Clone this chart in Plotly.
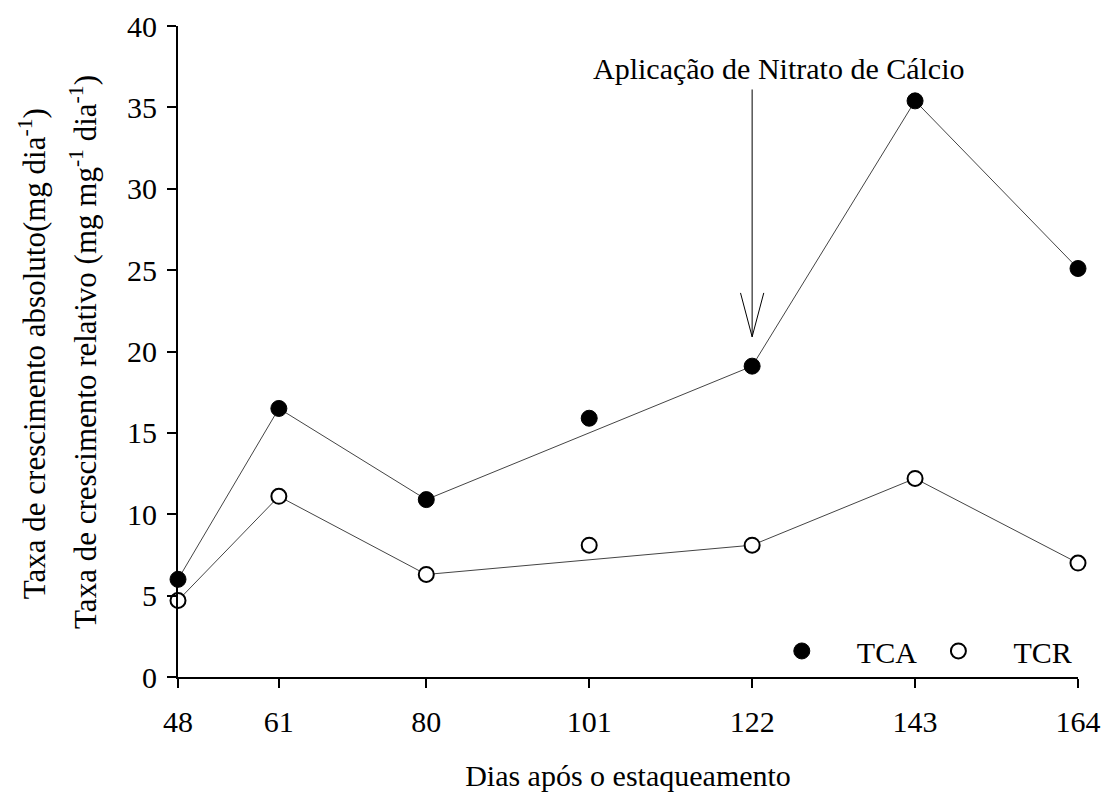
import plotly.graph_objects as go

# Days after planting the cuttings
dias = [48, 61, 80, 101, 122, 143, 164]
# Absolute growth rate (mg dia^-1)
tca = [6.0, 16.5, 10.9, 15.9, 19.1, 35.4, 25.1]
# Relative growth rate (mg mg^-1 dia^-1)
tcr = [4.7, 11.1, 6.3, 8.1, 8.1, 12.2, 7.0]
# The connecting lines skip day 101
linha_dias = [48, 61, 80, 122, 143, 164]
linha_tca = [6.0, 16.5, 10.9, 19.1, 35.4, 25.1]
linha_tcr = [4.7, 11.1, 6.3, 8.1, 12.2, 7.0]

x_ticks = [48, 61, 80, 101, 122, 143, 164]
y_ticks = [0, 5, 10, 15, 20, 25, 30, 35, 40]

# Calcium nitrate application marker (data units)
seta_x = 122
seta_topo = 36.1
seta_ponta = 20.9

FONT = "Liberation Serif"

fig = go.Figure()

fig.add_trace(go.Scatter(x=linha_dias, y=linha_tca, mode="lines",
                         line=dict(color="#444444", width=1), showlegend=False,
                         hoverinfo="skip"))
fig.add_trace(go.Scatter(x=linha_dias, y=linha_tcr, mode="lines",
                         line=dict(color="#444444", width=1), showlegend=False,
                         hoverinfo="skip"))
fig.add_trace(go.Scatter(x=dias, y=tca, mode="markers", name="TCA", legend="legend",
                         marker=dict(symbol="circle", size=16, color="black",
                                     line=dict(color="black", width=1)),
                         cliponaxis=False))
fig.add_trace(go.Scatter(x=dias, y=tcr, mode="markers", name="TCR", legend="legend2",
                         marker=dict(symbol="circle", size=15, color="white",
                                     line=dict(color="black", width=2)),
                         cliponaxis=False))

# Arrow shaft and open head
fig.add_shape(type="line", x0=seta_x, x1=seta_x, y0=seta_topo, y1=seta_ponta,
              line=dict(color="black", width=1))
fig.add_shape(type="line", x0=seta_x - 1.5, x1=seta_x, y0=seta_ponta + 2.7, y1=seta_ponta,
              line=dict(color="black", width=1))
fig.add_shape(type="line", x0=seta_x + 1.5, x1=seta_x, y0=seta_ponta + 2.7, y1=seta_ponta,
              line=dict(color="black", width=1))

fig.add_annotation(x=125.4, y=37.4, text="Aplicação de Nitrato de Cálcio",
                   showarrow=False, font=dict(family=FONT, size=30, color="black"),
                   xanchor="center", yanchor="middle")

# Two-line y-axis title
fig.add_annotation(x=-0.186, y=0.496, xref="paper", yref="paper",
                   text="Taxa de crescimento absoluto(mg dia<sup>-1</sup>)",
                   textangle=-90, showarrow=False,
                   font=dict(family=FONT, size=31, color="black"))
fig.add_annotation(x=-0.129, y=0.5, xref="paper", yref="paper",
                   text="Taxa de crescimento relativo (mg mg<sup>-1</sup> dia<sup>-1</sup>)",
                   textangle=-90, showarrow=False,
                   font=dict(family=FONT, size=31, color="black"))

legenda = dict(orientation="h", yanchor="middle", xanchor="left", itemwidth=100,
               bgcolor="rgba(0,0,0,0)", font=dict(family=FONT, size=30))

fig.update_layout(
    width=1104, height=793,
    margin=dict(l=178, r=26, t=26, b=116, autoexpand=False),
    paper_bgcolor="white", plot_bgcolor="white",
    font=dict(family=FONT, size=30, color="black"),
    showlegend=True,
    legend=dict(legenda, x=0.632, y=0.04),
    legend2=dict(legenda, x=0.806, y=0.04),
    xaxis=dict(range=[48, 164], tickvals=x_ticks, ticktext=[str(v) for v in x_ticks],
               automargin=False,
               showgrid=False, zeroline=False, showline=True, linecolor="black",
               linewidth=2, ticks="outside", ticklen=9, tickwidth=2, tickcolor="black",
               ticklabelstandoff=8,
               title=dict(text="Dias após o estaqueamento", standoff=28,
                          font=dict(family=FONT, size=30))),
    yaxis=dict(range=[0, 40], tickvals=y_ticks, showgrid=False, zeroline=False,
               automargin=False,
               showline=True, linecolor="black", linewidth=2, ticks="outside",
               ticklen=9, tickwidth=2, tickcolor="black", ticklabelstandoff=4),
)

fig.write_html("out.html")
